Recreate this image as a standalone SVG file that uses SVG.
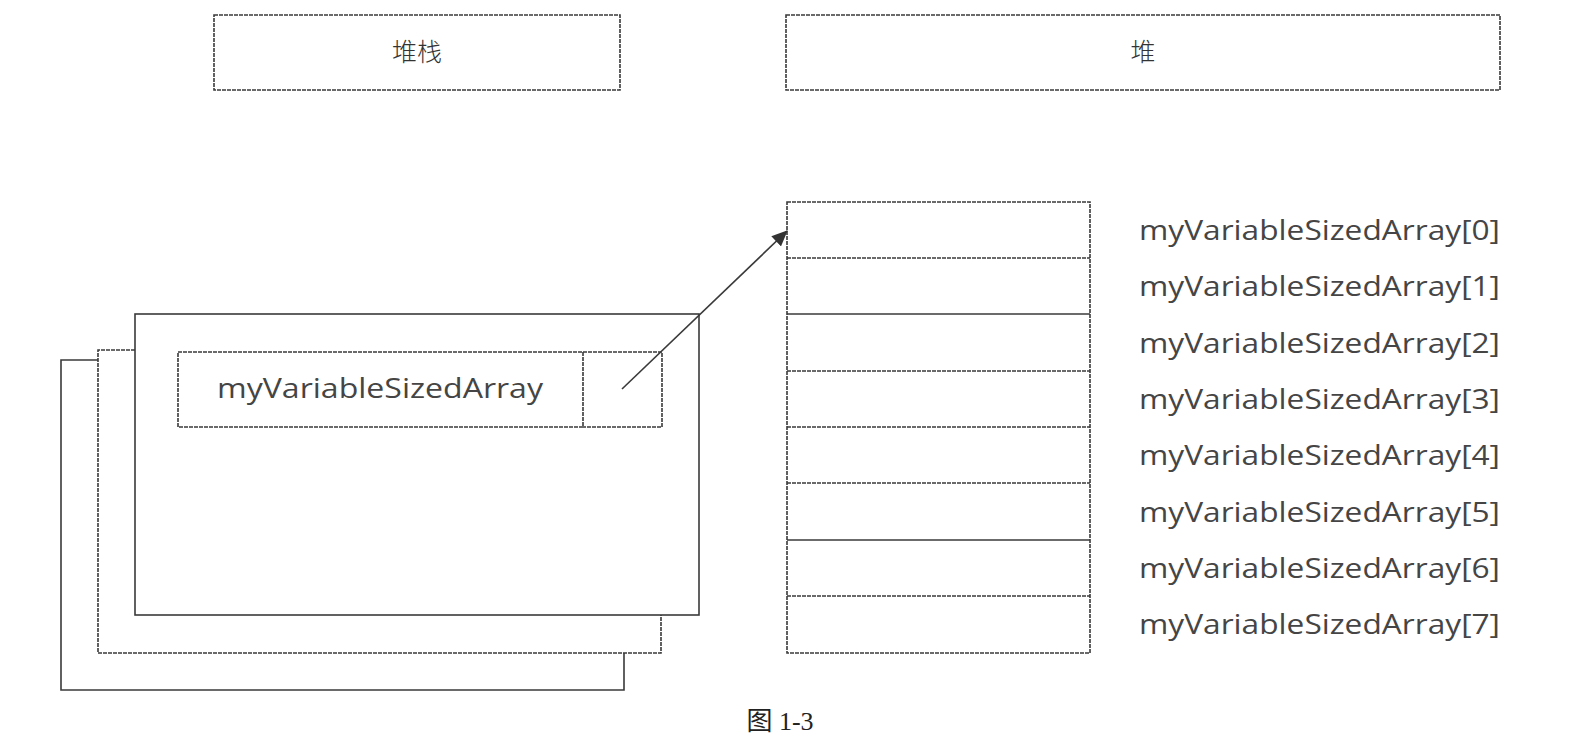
<svg xmlns="http://www.w3.org/2000/svg" width="1571" height="743" viewBox="0 0 1571 743">
<style>
.solid{fill:none;stroke:#3a3a3a;stroke-width:1.6}
.dash{fill:none;stroke:#3a3a3a;stroke-width:1.6;stroke-dasharray:4 1}
.zh{font-family:"Noto Sans CJK SC","Noto Sans",sans-serif;font-size:25px;font-weight:300;fill:#333;text-anchor:middle}
.lbl{font-family:"Open Sans",Lato,"Liberation Sans",sans-serif;font-size:27px;font-weight:400;fill:#454545}
.cap{font-family:"Liberation Serif","Noto Sans CJK SC",serif;font-size:26px;fill:#222;text-anchor:middle}
</style>
<defs>
<marker id="arr" markerWidth="16" markerHeight="14" refX="15" refY="7" orient="auto" markerUnits="userSpaceOnUse">
<path d="M0,0 L16,7 L0,14 Z" fill="#333"/>
</marker>
</defs>
<rect width="1571" height="743" fill="#fff"/>
<g id="stack-header">
<rect class="dash" x="214" y="15" width="406" height="75"/>
<text class="zh" x="417" y="61">堆栈</text>
</g>
<g id="heap-header">
<rect class="dash" x="786" y="15" width="714" height="75"/>
<text class="zh" x="1143" y="61">堆</text>
</g>
<g id="frame-back">
<path class="solid" d="M98,360 H61 V690 H624 V653"/>
</g>
<g id="frame-middle">
<path class="dash" d="M135,350 H98 V653 H661 V615"/>
</g>
<g id="frame-front">
<rect class="solid" x="135" y="314" width="564" height="301" fill="#fff"/>
</g>
<g id="var-cell">
<rect class="dash" x="178" y="352" width="405" height="75"/>
<text class="lbl" x="217" y="398" textLength="326" lengthAdjust="spacingAndGlyphs">myVariableSizedArray</text>
</g>
<g id="pointer-cell">
<path class="dash" d="M583,352 H662 V427 H583"/>
</g>
<g id="heap-array">
<rect class="dash" x="787" y="202" width="303" height="451"/>
<line class="dash" x1="787" y1="258" x2="1090" y2="258"/>
<line class="solid" x1="787" y1="314" x2="1090" y2="314"/>
<line class="dash" x1="787" y1="371" x2="1090" y2="371"/>
<line class="dash" x1="787" y1="427" x2="1090" y2="427"/>
<line class="dash" x1="787" y1="483" x2="1090" y2="483"/>
<line class="solid" x1="787" y1="540" x2="1090" y2="540"/>
<line class="dash" x1="787" y1="596" x2="1090" y2="596"/>
</g>
<g id="array-labels">
<text class="lbl" x="1139" y="240" textLength="361" lengthAdjust="spacingAndGlyphs">myVariableSizedArray[0]</text>
<text class="lbl" x="1139" y="296" textLength="361" lengthAdjust="spacingAndGlyphs">myVariableSizedArray[1]</text>
<text class="lbl" x="1139" y="353" textLength="361" lengthAdjust="spacingAndGlyphs">myVariableSizedArray[2]</text>
<text class="lbl" x="1139" y="409" textLength="361" lengthAdjust="spacingAndGlyphs">myVariableSizedArray[3]</text>
<text class="lbl" x="1139" y="465" textLength="361" lengthAdjust="spacingAndGlyphs">myVariableSizedArray[4]</text>
<text class="lbl" x="1139" y="522" textLength="361" lengthAdjust="spacingAndGlyphs">myVariableSizedArray[5]</text>
<text class="lbl" x="1139" y="578" textLength="361" lengthAdjust="spacingAndGlyphs">myVariableSizedArray[6]</text>
<text class="lbl" x="1139" y="634" textLength="361" lengthAdjust="spacingAndGlyphs">myVariableSizedArray[7]</text>
</g>
<g id="connectors">
<line class="solid" x1="622" y1="389" x2="787" y2="231" marker-end="url(#arr)"/>
</g>
<text class="cap" x="780" y="730">图 1-3</text>
</svg>
